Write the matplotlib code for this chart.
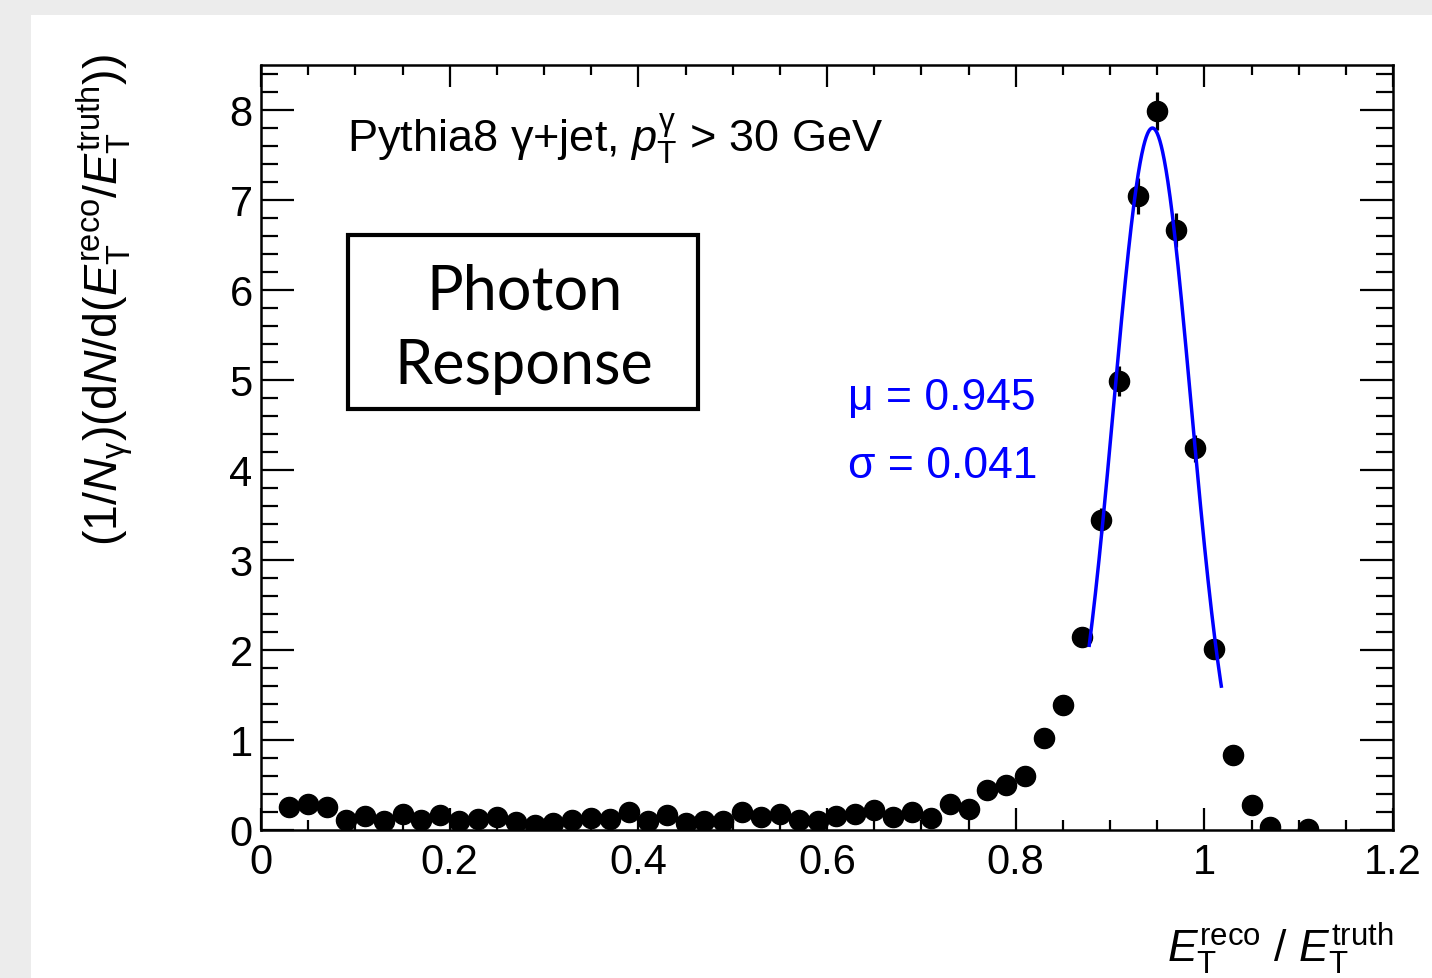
import numpy as np
import matplotlib.pyplot as plt
from matplotlib.patches import Rectangle

plt.rcParams['font.family'] = ['Liberation Sans', 'DejaVu Sans']
plt.rcParams['mathtext.fontset'] = 'custom'
plt.rcParams['mathtext.rm'] = 'Liberation Sans'
plt.rcParams['mathtext.it'] = 'Liberation Sans:italic'
plt.rcParams['mathtext.bf'] = 'Liberation Sans:bold'

# histogram bins (centres), bin 1.09 is empty and not drawn
bin_centres = [0.03, 0.05, 0.07, 0.09, 0.11, 0.13, 0.15, 0.17, 0.19, 0.21,
               0.23, 0.25, 0.27, 0.29, 0.31, 0.33, 0.35, 0.37, 0.39, 0.41,
               0.43, 0.45, 0.47, 0.49, 0.51, 0.53, 0.55, 0.57, 0.59, 0.61,
               0.63, 0.65, 0.67, 0.69, 0.71, 0.73, 0.75, 0.77, 0.79, 0.81,
               0.83, 0.85, 0.87, 0.89, 0.91, 0.93, 0.95, 0.97, 0.99, 1.01,
               1.03, 1.05, 1.07, 1.11]
counts = [0.26, 0.29, 0.26, 0.11, 0.16, 0.10, 0.18, 0.11, 0.17, 0.10,
          0.12, 0.15, 0.09, 0.06, 0.08, 0.11, 0.13, 0.12, 0.20, 0.10,
          0.17, 0.08, 0.10, 0.10, 0.20, 0.14, 0.18, 0.11, 0.10, 0.16,
          0.18, 0.22, 0.14, 0.20, 0.13, 0.29, 0.23, 0.44, 0.50, 0.60,
          1.02, 1.39, 2.14, 3.44, 4.99, 7.04, 7.99, 6.67, 4.24, 2.01,
          0.83, 0.28, 0.03, 0.01]
errors = [0.04, 0.04, 0.04, 0.03, 0.03, 0.03, 0.03, 0.03, 0.03, 0.03,
          0.03, 0.03, 0.02, 0.02, 0.02, 0.03, 0.03, 0.03, 0.03, 0.03,
          0.03, 0.02, 0.03, 0.03, 0.03, 0.03, 0.03, 0.03, 0.03, 0.03,
          0.03, 0.04, 0.03, 0.03, 0.03, 0.04, 0.04, 0.05, 0.05, 0.06,
          0.08, 0.09, 0.11, 0.14, 0.17, 0.20, 0.21, 0.19, 0.15, 0.11,
          0.07, 0.04, 0.01, 0.01]

# gaussian fit
fit_mu = 0.945
fit_sigma = 0.041
fit_amp = 7.8
fit_range = (0.878, 1.018)

W, H = 1432, 979


def fpos(px, py):
    return px / W, 1 - py / H


fig = plt.figure(figsize=(W / 100, H / 100), dpi=100)
fig.patch.set_facecolor('#ececec')
fig.patches.append(Rectangle(fpos(31, 979), (W - 31) / W, (979 - 16) / H,
                             transform=fig.transFigure, facecolor='white',
                             edgecolor='none', zorder=-5))

l, b = fpos(261, 831)
r, t = fpos(1393, 66)
ax = fig.add_axes([l, b, r - l, t - b])
ax.set_zorder(2)
ax.patch.set_alpha(0)

ax.errorbar(bin_centres, counts, yerr=errors, fmt='o', color='black',
            ms=14.5, elinewidth=2.3, capsize=0, zorder=3)

xf = np.linspace(fit_range[0], fit_range[1], 300)
yf = fit_amp * np.exp(-0.5 * ((xf - fit_mu) / fit_sigma) ** 2)
ax.plot(xf, yf, color='#0000ff', lw=2.5, zorder=4)

ax.set_xlim(0, 1.2)
ax.set_ylim(0, 8.5)
ax.set_xticks([0, 0.2, 0.4, 0.6, 0.8, 1.0, 1.2])
ax.set_xticklabels(['0', '0.2', '0.4', '0.6', '0.8', '1', '1.2'])
ax.set_xticks(np.arange(0, 1.2001, 0.05), minor=True)
ax.set_yticks(range(0, 9))
ax.set_yticks(np.arange(0, 8.5, 0.2), minor=True)

for s in ax.spines.values():
    s.set_linewidth(1.8)
ax.tick_params(axis='both', which='both', direction='in', top=True, right=True,
               width=1.6, labelsize=30)
ax.tick_params(axis='x', which='major', length=16, pad=9)
ax.tick_params(axis='x', which='minor', length=7.5)
ax.tick_params(axis='y', which='major', length=24, pad=6)
ax.tick_params(axis='y', which='minor', length=12)

fig.text(*fpos(105, 54), r'$(1/N_{\mathrm{\gamma}})(\mathrm{d}N/\mathrm{d}(E_{\mathrm{T}}^{\mathrm{reco}}/E_{\mathrm{T}}^{\mathrm{truth}}))$',
         rotation=90, ha='center', va='top', fontsize=33.5)
fig.text(*fpos(1393, 962), r'$E_{\mathrm{T}}^{\mathrm{reco}}$ / $E_{\mathrm{T}}^{\mathrm{truth}}$',
         ha='right', va='baseline', fontsize=32)

fig.text(*fpos(347, 152), r'Pythia8 $\mathrm{\gamma}$+jet, $p_{\mathrm{T}}^{\mathrm{\gamma}}$ > 30 GeV',
         ha='left', va='baseline', fontsize=32.5)

bx0, by0 = fpos(348, 410)
bx1, by1 = fpos(698, 236)
fig.patches.append(Rectangle((bx0, by0), bx1 - bx0, by1 - by0, transform=fig.transFigure,
                             facecolor='none', edgecolor='black', lw=3, zorder=5))
fig.text(*fpos(524, 329), 'Photon\nResponse', ha='center', va='center',
         fontsize=44, family='Lato', linespacing=1.38)

fig.text(*fpos(848, 399), 'μ = 0.945', color='#0000ff', ha='left', va='center', fontsize=32)
fig.text(*fpos(848, 467), 'σ = 0.041', color='#0000ff', ha='left', va='center', fontsize=32)

fig.savefig('out.png', dpi=100)
